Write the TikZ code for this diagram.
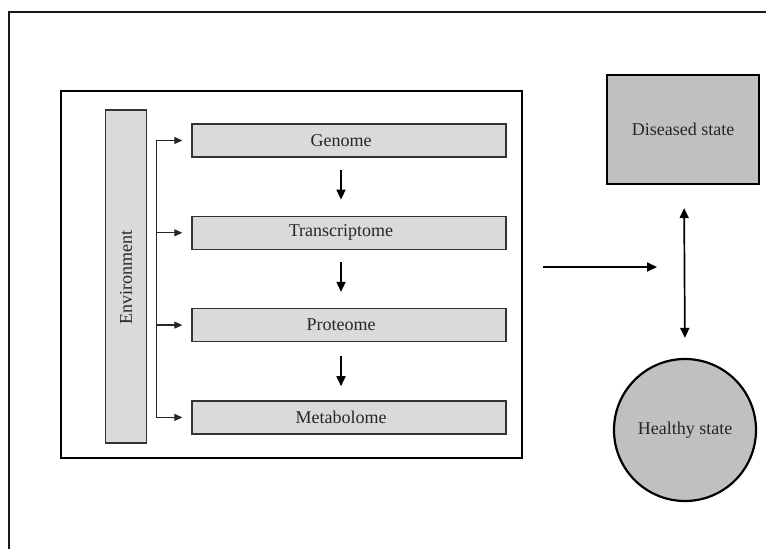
\documentclass[tikz,border=0pt]{standalone}
\usepackage{fontspec}
\setmainfont{Liberation Serif}
\definecolor{LightGrey}{HTML}{D9DADC}
\definecolor{StateGrey}{HTML}{C0C0C2}
\usetikzlibrary{arrows.meta}

\begin{document}
\begin{tikzpicture}
    [x=1pt, y=-1pt,
    every node/.style={font=\fontsize{18}{21}\selectfont, text=black!85},
    omics/.style={draw=black!80, line width=1.4pt, fill=LightGrey, minimum width=314pt, minimum height=33pt, inner sep=0pt,
        execute at end node={\hspace*{16pt}}},
    state/.style={draw=black, line width=2.2pt, fill=StateGrey, inner sep=0pt},
    feed/.style={draw=black!85, line width=1.3pt, -{Triangle[length=8pt,width=7pt]}, shorten >=9pt},
    flow/.style={draw=black, line width=1.7pt, -{Triangle[length=10pt,width=9pt]}}]

    \useasboundingbox (0,0) rectangle (766,549);

    % outer frame
    \draw[line width=2.2pt, black!90] (770,12) -- (9,12) -- (9,553);

    % inner box
    \node[draw=black, line width=2.2pt, minimum width=461pt, minimum height=367pt, inner sep=0pt] (frame) at (291.5,274.5) {};

    % environment bar
    \node[omics, rotate=90, minimum width=333pt, minimum height=41pt,
        execute at end node={}, execute at begin node={\hspace*{14pt}}] (environment) at (126,276.5) {Environment};

    % omics levels
    \node[omics] (genome) at (349,140.5) {Genome};
    \node[omics] (transcriptome) at (349,232.8) {Transcriptome};
    \node[omics] (proteome) at (349,325.1) {Proteome};
    \node[omics] (metabolome) at (349,417.4) {Metabolome};

    \draw[draw=black!85, line width=1.3pt] ([xshift=-35pt]genome.west) -- ([xshift=-35pt]metabolome.west);
    \foreach \n in {genome,transcriptome,proteome,metabolome}
        \draw[feed] ([xshift=-35pt]\n.west) -- (\n.west);

    \draw[flow] ([xshift=-8pt]genome.south) ++(0,12) -- ([xshift=-8pt,yshift=16pt]transcriptome.north);
    \draw[flow] ([xshift=-8pt]transcriptome.south) ++(0,12) -- ([xshift=-8pt,yshift=16pt]proteome.north);
    \draw[flow] ([xshift=-8pt]proteome.south) ++(0,14) -- ([xshift=-8pt,yshift=14pt]metabolome.north);

    % states
    \node[state, minimum width=152pt, minimum height=109pt] (diseased) at (683,129.5) {Diseased state};
    \node[state, circle, minimum size=142pt] (healthy) at (685,430) {Healthy state};

    \coordinate (outstart) at (543,267);
    \coordinate (outend) at (657,267);
    \draw[flow] (outstart) -- (outend);
    \draw[flow, {Triangle[length=10pt,width=9pt]}-{Triangle[length=10pt,width=9pt]}, shorten <=23pt, shorten >=20pt] ([xshift=1pt]diseased.south) -- (healthy.north);
\end{tikzpicture}
\end{document}
